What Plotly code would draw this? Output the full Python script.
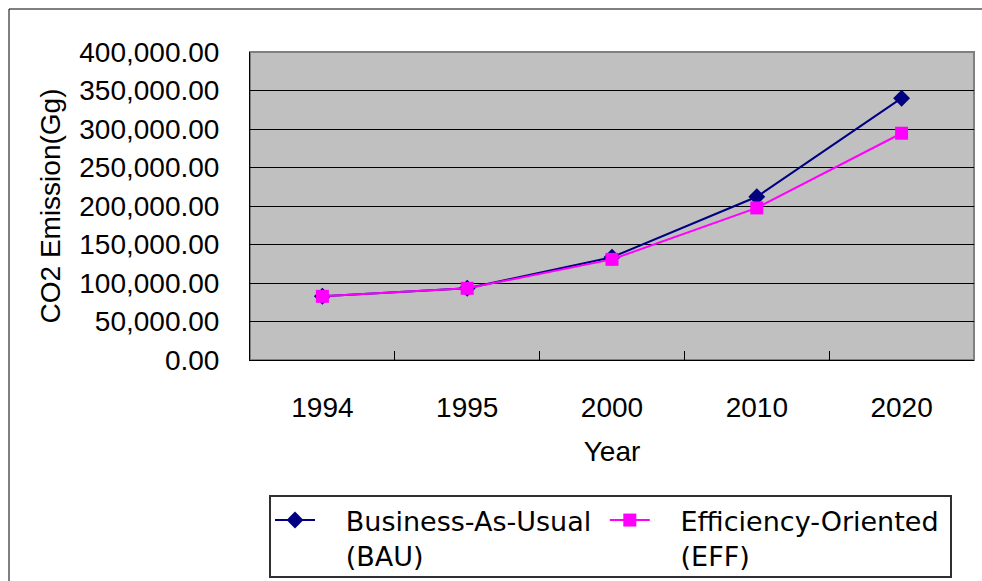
import plotly.graph_objects as go

years = ["1994", "1995", "2000", "2010", "2020"]
bau = [82700, 93100, 133500, 212000, 340000]
eff = [82700, 93100, 130700, 197500, 294500]
yticks = [0, 50000, 100000, 150000, 200000, 250000, 300000, 350000, 400000]

FONT = "Liberation Sans"
LFONT = "DejaVu Sans"
FS = 28
LFS = 27
W, H = 982, 581
L, R, T, B = 250, 974, 52, 360

def px(x):
    return (x - L) / (R - L)

def py(y):
    return (B - y) / (B - T)

pad = "&nbsp;" * 3
fig = go.Figure()
fig.add_trace(go.Scatter(
    x=years, y=bau, mode="lines+markers",
    name=pad + "Business-As-Usual&nbsp;<br>" + pad + "(BAU)",
    line=dict(color="#000080", width=2),
    marker=dict(symbol="diamond", size=13, color="#000080"),
))
fig.add_trace(go.Scatter(
    x=years, y=eff, mode="lines+markers",
    name=pad + "Efficiency-Oriented<br>" + pad + "(EFF)",
    line=dict(color="#FF00FF", width=2),
    marker=dict(symbol="square", size=13, color="#FF00FF"),
))

fig.update_layout(
    width=W, height=H,
    margin=dict(l=L, r=W - R, t=T, b=H - B, pad=0, autoexpand=False),
    paper_bgcolor="white",
    plot_bgcolor="#C0C0C0",
    font=dict(family=FONT, size=FS, color="black"),
    showlegend=True,
    legend=dict(
        orientation="h", xref="container", yref="container",
        x=270 / W, y=1 - 496 / H, xanchor="left", yanchor="top",
        borderwidth=0, bgcolor="rgba(0,0,0,0)", valign="top",
        font=dict(family=LFONT, size=LFS), itemwidth=40, tracegroupgap=0,
    ),
    xaxis=dict(
        type="category", range=[-0.5, 4.5], showgrid=False, showline=True,
        linecolor="black", linewidth=1,
        ticks="inside", tickson="boundaries", ticklen=9, tickcolor="black",
        ticklabelstandoff=22, zeroline=False,
        title=dict(text="Year", standoff=19, font=dict(size=FS)),
    ),
    yaxis=dict(
        range=[0, 400000], tickvals=yticks, tickformat=",.2f",
        showgrid=True, gridcolor="black", gridwidth=1,
        showline=True, linecolor="black", linewidth=1, zeroline=False,
        ticks="", ticklabelstandoff=24,
        title=dict(text="CO2 Emission(Gg)", standoff=10, font=dict(size=FS)),
    ),
    shapes=[
        dict(type="rect", xref="paper", yref="paper", x0=0, x1=1, y0=0, y1=1,
             line=dict(color="#808080", width=2), layer="below"),
        dict(type="rect", xref="paper", yref="paper",
             x0=px(9), x1=px(995), y0=py(9), y1=py(600),
             line=dict(color="black", width=1)),
        dict(type="rect", xref="paper", yref="paper",
             x0=px(270), x1=px(951), y0=py(496), y1=py(577),
             line=dict(color="#303030", width=2)),
    ],
)

fig.write_html("out.html")
